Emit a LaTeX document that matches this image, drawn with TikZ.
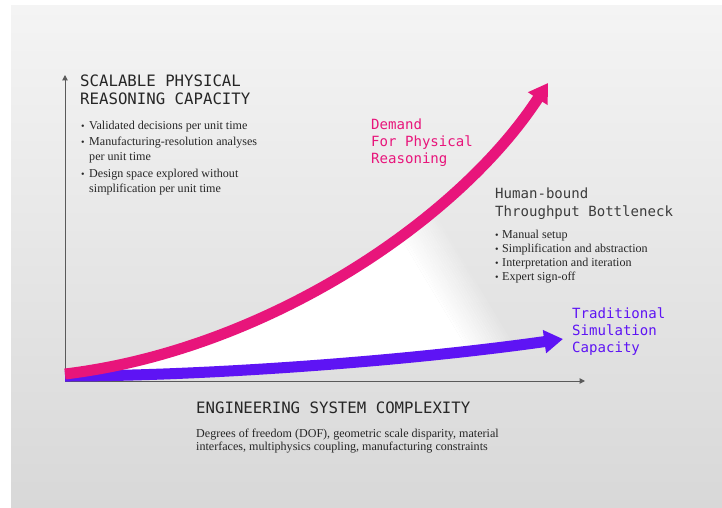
\documentclass[tikz,border=0pt]{standalone}
\usepackage{fontspec}
\setmainfont{Liberation Serif}
\newfontfamily\labelmono{DejaVu Sans Mono}
\usetikzlibrary{arrows.meta}
\definecolor{demandpink}{HTML}{E8157B}
\definecolor{simviolet}{HTML}{5E14F4}
\definecolor{axisgray}{HTML}{5A5A5A}
\definecolor{inkdark}{HTML}{262626}
\definecolor{bgtop}{HTML}{F4F4F4}
\definecolor{bgmid}{HTML}{E7E7E7}
\definecolor{bgbot}{HTML}{D8D8D8}

\begin{document}
\begin{tikzpicture}[x=0.03cm,y=-0.03cm,
  heading/.style={font=\labelmono\fontsize{13.4}{15}\selectfont, text=inkdark, anchor=base west, inner sep=0pt},
  curvelabel/.style={font=\labelmono\fontsize{12}{14}\selectfont, anchor=base west, inner sep=0pt},
  bodytext/.style={font=\fontsize{10.3}{12}\selectfont, text=inkdark, anchor=base west, inner sep=0pt},
  dot/.style={font=\fontsize{8.5}{9}\selectfont, text=inkdark, anchor=base west, inner sep=0pt},
  axisline/.style={draw=axisgray, line width=0.85pt, -{Triangle[length=4.5pt,width=4.5pt]}},
  trend/.style={line width=9.4pt, -{Triangle[length=16pt,width=19pt]}},
]
\useasboundingbox (0,0) rectangle (722,508);

% backdrop
\fill[white] (0,0) rectangle (722,508);
\shade[top color=bgtop, middle color=bgmid, bottom color=bgbot] (11,6) rectangle (722,508);

% gap between demand and capacity, fading out to the right
\def\fx{405}\def\fy{245}
\begin{scope}
  \clip (65,376) .. controls (200,376) and (400,362) .. (563,339)
        -- (548,83) .. controls (458,221) and (265,350) .. (65,374) -- cycle;
  \fill[white] ({\fx-0.857*700-0.514*500},{\fy+0.514*700-0.857*500})
            -- ({\fx-0.857*700+0.514*500},{\fy+0.514*700+0.857*500})
            -- ({\fx+0.514*500},{\fy+0.857*500})
            -- ({\fx-0.514*500},{\fy-0.857*500}) -- cycle;
  \foreach \i in {0,...,19} {
    \pgfmathsetmacro\sa{2.2*\i}
    \pgfmathsetmacro\sb{2.2*\i+2.3}
    \pgfmathsetmacro\op{1-(\i+0.5)/20}
    \fill[white, fill opacity=\op]
      ({\fx+0.857*\sa-0.514*500},{\fy-0.514*\sa-0.857*500})
      -- ({\fx+0.857*\sa+0.514*500},{\fy-0.514*\sa+0.857*500})
      -- ({\fx+0.857*\sb+0.514*500},{\fy-0.514*\sb+0.857*500})
      -- ({\fx+0.857*\sb-0.514*500},{\fy-0.514*\sb-0.857*500}) -- cycle;
  }
\end{scope}

% axes
\coordinate (origin) at (65,381);
\coordinate (ytip) at (65,75);
\coordinate (xtip) at (585,381);
\draw[axisline] (origin) -- (ytip);
\draw[axisline] (origin) -- (xtip);

% trend arrows
\coordinate (violetstart) at (65,376);
\coordinate (violettip) at (563,339);
\coordinate (pinkstart) at (65,374);
\coordinate (pinktip) at (548,83);
\draw[trend, simviolet] (violetstart) .. controls (200,376) and (400,362) .. (violettip);
\draw[trend, demandpink] (pinkstart) .. controls (265,350) and (458,221) .. (pinktip);

% vertical axis caption
\node[heading] (ytitle1) at (80,87) {SCALABLE PHYSICAL};
\node[heading] (ytitle2) at (80,105) {REASONING CAPACITY};
\node[dot] (yb1) at (81,130) {•};
\node[bodytext] (yl1) at (89,130) {Validated decisions per unit time};
\node[dot] (yb2) at (81,146) {•};
\node[bodytext] (yl2) at (89,146) {Manufacturing-resolution analyses};
\node[bodytext] (yl3) at (89,161) {per unit time};
\node[dot] (yb3) at (81,178) {•};
\node[bodytext] (yl4) at (89,178) {Design space explored without};
\node[bodytext] (yl5) at (89,193) {simplification per unit time};

% demand curve label
\node[curvelabel, text=demandpink] (d1) at (371,130) {Demand};
\node[curvelabel, text=demandpink] (d2) at (371,147) {For Physical};
\node[curvelabel, text=demandpink] (d3) at (371,164) {Reasoning};

% bottleneck label
\node[curvelabel, text=inkdark!90] (h1) at (495,199) {Human-bound};
\node[curvelabel, text=inkdark!90] (h2) at (495,216) {Throughput Bottleneck};
\node[dot] (hb1) at (495,238) {•};
\node[bodytext] (hl1) at (502,238) {Manual setup};
\node[dot] (hb2) at (495,253) {•};
\node[bodytext] (hl2) at (502,253) {Simplification and abstraction};
\node[dot] (hb3) at (495,267) {•};
\node[bodytext] (hl3) at (502,267) {Interpretation and iteration};
\node[dot] (hb4) at (495,281) {•};
\node[bodytext] (hl4) at (502,281) {Expert sign-off};

% capacity curve label
\node[curvelabel, text=simviolet] (t1) at (572,318) {Traditional};
\node[curvelabel, text=simviolet] (t2) at (572,335) {Simulation};
\node[curvelabel, text=simviolet] (t3) at (572,352) {Capacity};

% horizontal axis caption
\node[heading] (xtitle) at (196,413) {ENGINEERING SYSTEM COMPLEXITY};
\node[bodytext] (xl1) at (196,437) {Degrees of freedom (DOF), geometric scale disparity, material};
\node[bodytext] (xl2) at (196,450) {interfaces, multiphysics coupling, manufacturing constraints};
\end{tikzpicture}
\end{document}
